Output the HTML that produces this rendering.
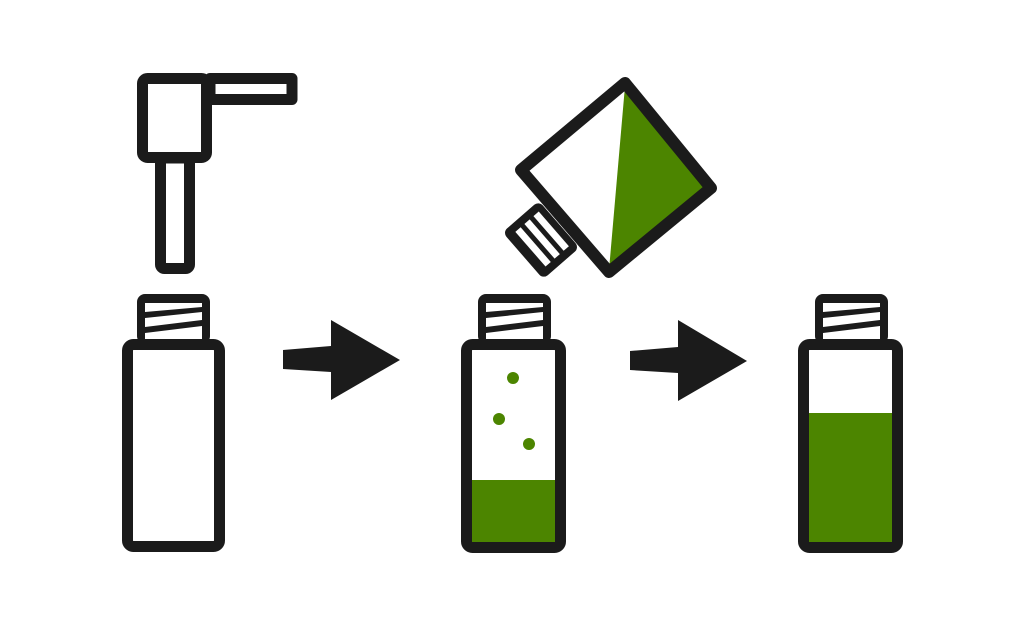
<!DOCTYPE html>
<html><head><style>html,body{margin:0;padding:0;background:#fff}svg{display:block}</style></head>
<body>
<svg width="1024" height="640" viewBox="0 0 1024 640" xmlns="http://www.w3.org/2000/svg">
<defs>
<g id="cap">
<rect x="0" y="0" width="73" height="50" rx="8" fill="#1b1b1b"/>
<polygon points="8,9 65,9 65,13 8,18" fill="#fff"/>
<polygon points="8,24 65,18 65,26 8,33" fill="#fff"/>
<polygon points="8,39 65,32 65,45 8,45" fill="#fff"/>
</g>
</defs>
<g fill="none" stroke="#1b1b1b" stroke-width="11" stroke-linejoin="round">
<rect x="210" y="78.5" width="82" height="21" fill="#fff"/>
<rect x="160.5" y="158" width="29" height="110.5" rx="4" fill="#fff"/>
<rect x="142.5" y="78.5" width="64" height="79" rx="5" fill="#fff"/>
</g>
<use href="#cap" x="137" y="294"/>
<rect x="127.5" y="344.5" width="92" height="202" rx="6" fill="#fff" stroke="#1b1b1b" stroke-width="11"/>
<use href="#cap" x="478" y="294"/>
<rect x="466.5" y="344.5" width="94" height="203" rx="6" fill="#fff" stroke="#1b1b1b" stroke-width="11"/>
<rect x="472" y="480" width="83" height="62" fill="#4c8500"/>
<circle cx="513" cy="378" r="6" fill="#4c8500"/>
<circle cx="499" cy="419" r="6" fill="#4c8500"/>
<circle cx="529" cy="444" r="6" fill="#4c8500"/>
<use href="#cap" x="815" y="294"/>
<rect x="803.5" y="344.5" width="94" height="203" rx="6" fill="#fff" stroke="#1b1b1b" stroke-width="11"/>
<rect x="809" y="413" width="83" height="129" fill="#4c8500"/>
<polygon points="283,350 331,346 331,320 400,360 331,400 331,372 283,369" fill="#1b1b1b"/>
<polygon points="630,351 678,347 678,320 747,361 678,401 678,373 630,370" fill="#1b1b1b"/>
<g transform="translate(541,240) rotate(49)">
<rect x="-31" y="-24" width="62" height="48" rx="6" fill="#1b1b1b"/>
<rect x="-23" y="-17" width="46" height="7" fill="#fff"/>
<rect x="-23" y="-5" width="46" height="7" fill="#fff"/>
<rect x="-23" y="7" width="46" height="7" fill="#fff"/>
</g>
<polygon points="625,83 711,188 609,272 521,170" fill="#fff"/>
<polygon points="625,86 710,188 609,270" fill="#4c8500"/>
<polygon points="625,83 711,188 609,272 521,170" fill="none" stroke="#1b1b1b" stroke-width="12" stroke-linejoin="round"/>
</svg>
</body></html>
